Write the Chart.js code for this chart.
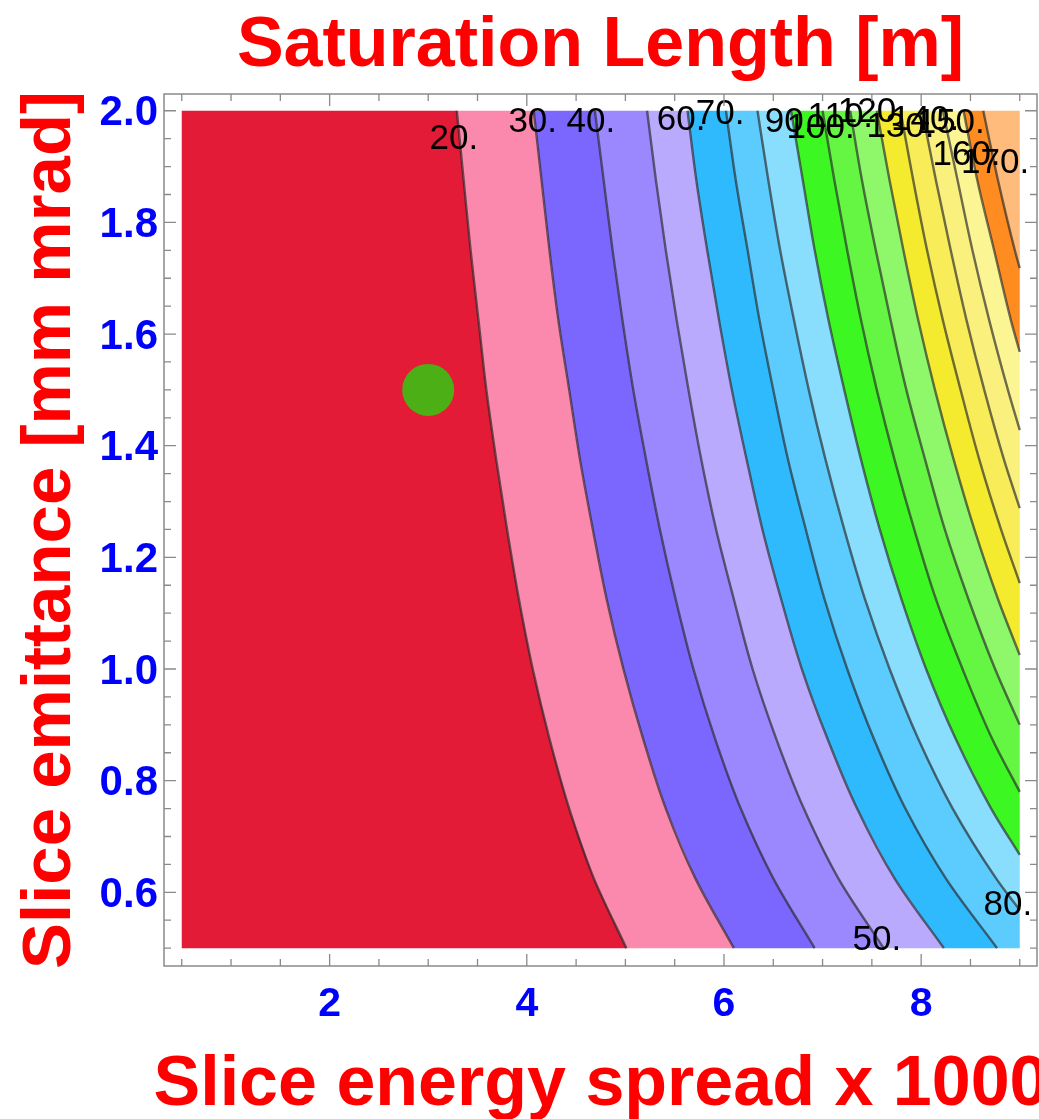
<!DOCTYPE html>
<html>
<head>
<meta charset="utf-8">
<script src="https://cdn.jsdelivr.net/npm/chart.js@4.4.1/dist/chart.umd.min.js"></script>
<style>
  html, body { margin: 0; padding: 0; background: #ffffff; }
  #chart { display: block; }
</style>
</head>
<body>
<canvas id="chart" width="1039" height="1119"></canvas>
<script>
const emitRows = [2.0, 1.875, 1.75, 1.625, 1.5, 1.375, 1.25, 1.125, 1.0, 0.875, 0.75, 0.625, 0.5];

// Contour levels of the saturation length [m]
const levels = [20, 30, 40, 50, 60, 70, 80, 90, 100, 110, 120, 130, 140, 150, 160, 170];

// Energy spread x1000 of each contour along emitRows (stops where it runs into the right edge)
const c20  = [3.29, 3.36, 3.43, 3.51, 3.59, 3.69, 3.80, 3.92, 4.06, 4.23, 4.43, 4.68, 5.01];
const c30  = [4.07, 4.15, 4.23, 4.32, 4.43, 4.54, 4.67, 4.81, 4.98, 5.18, 5.41, 5.71, 6.10];
const c40  = [4.69, 4.78, 4.87, 4.97, 5.08, 5.21, 5.35, 5.51, 5.69, 5.91, 6.17, 6.50, 6.92];
const c50  = [5.22, 5.31, 5.41, 5.52, 5.64, 5.77, 5.92, 6.10, 6.29, 6.53, 6.81, 7.16, 7.62];
const c60  = [5.63, 5.72, 5.83, 5.95, 6.08, 6.23, 6.39, 6.58, 6.79, 7.05, 7.35, 7.73, 8.23];
const c70  = [6.02, 6.12, 6.24, 6.36, 6.50, 6.65, 6.83, 7.02, 7.25, 7.52, 7.84, 8.25, 8.77];
const c80  = [6.34, 6.45, 6.57, 6.71, 6.86, 7.03, 7.22, 7.43, 7.68, 7.97, 8.32, 8.76];
const c90  = [6.68, 6.80, 6.92, 7.06, 7.22, 7.39, 7.58, 7.80, 8.05, 8.35, 8.71];
const c100 = [7.00, 7.12, 7.25, 7.39, 7.55, 7.73, 7.93, 8.15, 8.42, 8.72];
const c110 = [7.28, 7.40, 7.54, 7.69, 7.85, 8.04, 8.24, 8.48, 8.75];
const c120 = [7.55, 7.68, 7.82, 7.97, 8.14, 8.33, 8.54, 8.78];
const c130 = [7.79, 7.92, 8.06, 8.22, 8.40, 8.59, 8.81];
const c140 = [8.01, 8.15, 8.30, 8.46, 8.64, 8.84];
const c150 = [8.22, 8.37, 8.52, 8.69, 8.88];
const c160 = [8.43, 8.57, 8.74, 8.91];
const c170 = [8.63, 8.78, 8.95];
const contours = [c20, c30, c40, c50, c60, c70, c80, c90, c100, c110, c120, c130, c140, c150, c160, c170];

// Emittance where a contour leaves through the right edge (null = it reaches the bottom)
const rightExit = [null, null, null, null, null, null, 0.568, 0.667, 0.78, 0.90, 1.025, 1.154, 1.288, 1.428, 1.568, 1.718];

// Colours of the bands: below 20, 20-30, ... , 160-170, above 170
const bandColors = ['#E41B36', '#FB88AD', '#7C67FE', '#9B88FE', '#B9AAFE', '#2FBAFE', '#5CCBFE', '#89DEFE',
                    '#3DF722', '#65F643', '#8FF86A', '#F5EB2E', '#F8EC58', '#FAF07E', '#FCF594', '#FF8C20', '#FFBB7C'];

// Contour labels (text and where they sit)
const labelText = ['20.', '30.', '40.', '50.', '60.', '70.', '80.', '90.', '100.', '110.', '120.', '130.', '140.', '150.', '160.', '170.'];
const labelX = [3.26, 4.06, 4.65, 7.55, 5.565, 5.96, 8.88, 6.66, 6.98, 7.18, 7.50, 7.79, 8.04, 8.30, 8.46, 8.75];
const labelY = [1.948, 1.980, 1.980, 0.514, 1.983, 1.994, 0.577, 1.980, 1.969, 1.988, 1.997, 1.971, 1.983, 1.978, 1.920, 1.906];

// Working point
const dotX = [3.0];
const dotY = [1.5];

// Tick labels
const xTickVals = [2, 4, 6, 8];
const yTickVals = [0.6, 0.8, 1.0, 1.2, 1.4, 1.6, 1.8, 2.0];

// Plotted region
const X_LO = 0.5, X_HI = 9.0, Y_LO = 0.5, Y_HI = 2.0;
const FONT = "'Liberation Sans', Arial, sans-serif";
const LINE_COLOR = 'rgba(38,38,38,0.66)';

function contourPoints(i) {
    const pts = contours[i].map((x, k) => ({ x: x, y: emitRows[k] }));
    if (rightExit[i] !== null) pts.push({ x: X_HI, y: rightExit[i] });
    return pts;
}

// Each band is a closed shape: left boundary going down, right boundary coming back up
const leftEdge = [{ x: X_LO, y: Y_HI }, { x: X_LO, y: Y_LO }];
const rightEdge = [{ x: X_HI, y: Y_HI }, { x: X_HI, y: Y_LO }];
const boundaries = [leftEdge].concat(levels.map((_, i) => contourPoints(i)), [rightEdge]);

const bandDatasets = bandColors.map((color, i) => {
    const L = boundaries[i];
    const R = boundaries[i + 1];
    const pts = L.slice();
    if (L[L.length - 1].y === Y_LO && R[R.length - 1].y !== Y_LO) pts.push({ x: X_HI, y: Y_LO });
    return {
        data: pts.concat(R.slice().reverse()),
        fill: 'shape',
        backgroundColor: color,
        borderWidth: 0,
        borderColor: 'rgba(0,0,0,0)',
        pointRadius: 0,
        tension: 0,
        order: 3
    };
});

const lineDatasets = levels.map((lev, i) => ({
    data: contourPoints(i),
    fill: false,
    borderColor: LINE_COLOR,
    borderWidth: 2.4,
    pointRadius: 0,
    cubicInterpolationMode: 'monotone',
    order: 2
}));

const dotDataset = {
    data: dotX.map((x, i) => ({ x: x, y: dotY[i] })),
    showLine: false,
    pointRadius: 26,
    pointBackgroundColor: '#4CAF15',
    pointBorderWidth: 0,
    order: 1
};

// Contour labels on top of the bands
const contourLabels = {
    id: 'contourLabels',
    afterDatasetsDraw(chart) {
        const { ctx, scales: { x, y } } = chart;
        ctx.save();
        ctx.font = '35px ' + FONT;
        ctx.fillStyle = '#000000';
        ctx.textAlign = 'center';
        ctx.textBaseline = 'middle';
        labelText.forEach((t, i) => {
            ctx.fillText(t, x.getPixelForValue(labelX[i]), y.getPixelForValue(labelY[i]));
        });
        ctx.restore();
    }
};

// Frame with inward ticks on all four sides, plus the axis titles
const frameAndTitles = {
    id: 'frameAndTitles',
    afterDraw(chart) {
        const { ctx, chartArea: a, scales: { x, y } } = chart;
        ctx.save();
        ctx.strokeStyle = '#8a8a8a';
        ctx.lineWidth = 1.5;
        ctx.strokeRect(a.left, a.top, a.right - a.left, a.bottom - a.top);

        ctx.lineWidth = 1.3;
        ctx.beginPath();
        for (let k = 1; k <= 18; k++) {
            const v = k * 0.5;
            const px = x.getPixelForValue(v);
            const len = (v % 2 === 0) ? 12 : 7;
            ctx.moveTo(px, a.bottom); ctx.lineTo(px, a.bottom - len);
            ctx.moveTo(px, a.top); ctx.lineTo(px, a.top + len);
        }
        for (let k = 10; k <= 40; k++) {
            const py = y.getPixelForValue(k * 0.05);
            const len = (k % 4 === 0) ? 12 : 7;
            ctx.moveTo(a.left, py); ctx.lineTo(a.left + len, py);
            ctx.moveTo(a.right, py); ctx.lineTo(a.right - len, py);
        }
        ctx.stroke();

        ctx.fillStyle = '#FF0000';
        ctx.font = 'bold 70px ' + FONT;
        ctx.textAlign = 'center';
        ctx.textBaseline = 'middle';
        ctx.fillText('Slice energy spread x 1000', 601, 1086);

        ctx.translate(51, (a.top + a.bottom) / 2);
        ctx.rotate(-Math.PI / 2);
        ctx.font = 'bold 69px ' + FONT;
        ctx.fillText('Slice emittance [mm mrad]', 0, 0);
        ctx.restore();
    }
};

new Chart(document.getElementById('chart'), {
    type: 'line',
    data: { datasets: bandDatasets.concat(lineDatasets, [dotDataset]) },
    options: {
        responsive: false,
        animation: false,
        indexAxis: 'y',
        layout: { autoPadding: false, padding: { left: 0, right: 2, top: 0, bottom: 0 } },
        plugins: {
            legend: { display: false },
            tooltip: { enabled: false },
            title: {
                display: true,
                text: 'Saturation Length [m]',
                color: '#FF0000',
                fullSize: false,
                font: { family: FONT, size: 70, weight: 'bold' },
                padding: { top: 5, bottom: 5 }
            }
        },
        scales: {
            x: {
                type: 'linear',
                position: 'bottom',
                min: 0.32,
                max: 9.175,
                afterFit: s => { s.height = 153; },
                afterBuildTicks: s => { s.ticks = xTickVals.map(v => ({ value: v })); },
                grid: { display: false, drawTicks: false },
                border: { display: false },
                ticks: {
                    color: '#0000FF',
                    font: { family: FONT, size: 41, weight: 'bold' },
                    padding: 14,
                    maxRotation: 0,
                    autoSkip: false,
                    callback: v => String(v)
                }
            },
            y: {
                type: 'linear',
                position: 'left',
                min: 0.468,
                max: 2.03,
                afterFit: s => { s.width = 164; },
                afterBuildTicks: s => { s.ticks = yTickVals.map(v => ({ value: v })); },
                grid: { display: false, drawTicks: false },
                border: { display: false },
                ticks: {
                    color: '#0000FF',
                    font: { family: FONT, size: 42, weight: 'bold' },
                    padding: 6,
                    labelOffset: 3,
                    autoSkip: false,
                    callback: v => v.toFixed(1)
                }
            }
        }
    },
    plugins: [contourLabels, frameAndTitles]
});
</script>
</body>
</html>
